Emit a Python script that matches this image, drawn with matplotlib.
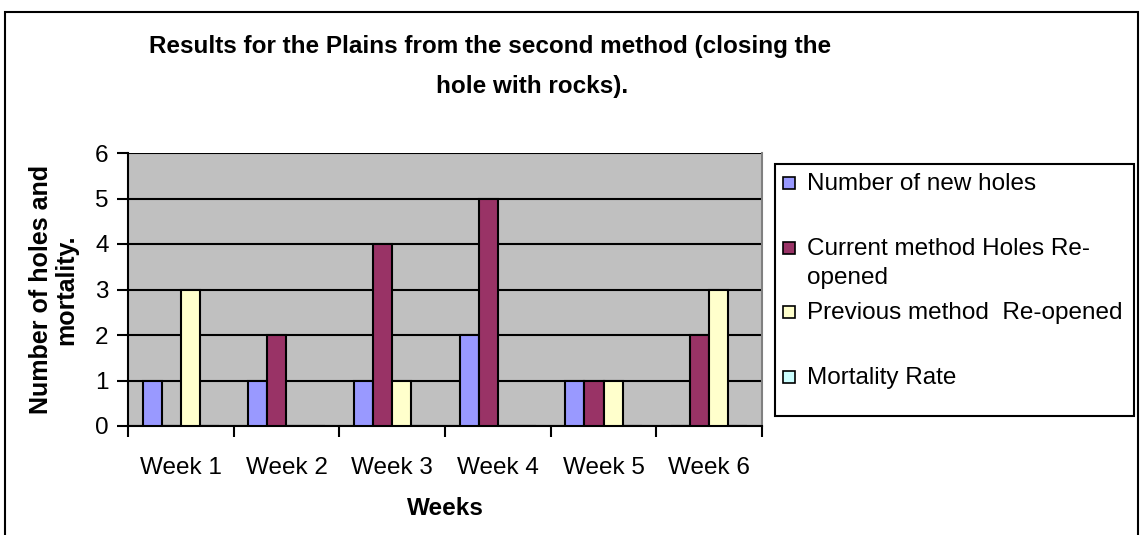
import numpy as np
import matplotlib
matplotlib.use("Agg")
from matplotlib import pyplot as plt
from matplotlib.patches import Rectangle

plt.rcParams['font.family'] = ['Liberation Sans', 'DejaVu Sans']

weeks = ["Week 1", "Week 2", "Week 3", "Week 4", "Week 5", "Week 6"]
new_holes = [1, 1, 1, 2, 1, 0]
current_reopened = [0, 2, 4, 5, 1, 2]
previous_reopened = [3, 0, 1, 0, 1, 3]
mortality = [0, 0, 0, 0, 0, 0]

series_names = ["Number of new holes", "Current method Holes Re-\nopened",
                "Previous method  Re-opened", "Mortality Rate"]
series_colors = ["#9999FF", "#993366", "#FFFFCC", "#CCFFFF"]
series = [new_holes, current_reopened, previous_reopened, mortality]

W, H = 1143, 535
fig = plt.figure(figsize=(W / 100, H / 100), dpi=100)

# outer chart border
fig.patches.append(Rectangle((5 / W, -0.02), 1133 / W, (523 / H) + 0.02,
                             transform=fig.transFigure, fill=False,
                             edgecolor="black", linewidth=1.5))

ax = fig.add_axes([128 / W, 109 / H, 634 / W, 273 / H])
ax.set_facecolor("#C0C0C0")

x = np.arange(len(weeks))
bw = 0.18
for i, (vals, col) in enumerate(zip(series, series_colors)):
    ax.bar(x + (i - 1.5) * bw, vals, bw, color=col, edgecolor="black",
           linewidth=1.5, zorder=3)

ax.set_xlim(-0.5, len(weeks) - 0.5)
ax.set_ylim(0, 6)
ax.set_yticks(range(7))
ax.yaxis.grid(True, color="black", linewidth=1.5, zorder=0)
ax.set_axisbelow(True)

ax.set_xticks(np.arange(-0.5, len(weeks), 1))
ax.set_xticklabels([])
ax.set_xticks(x, minor=True)
ax.set_xticklabels(weeks, minor=True, fontsize=17.5)
ax.tick_params(axis="x", which="minor", length=0, pad=22)
ax.tick_params(axis="x", which="major", length=8, width=1.5, direction="out")
ax.tick_params(axis="y", length=8, width=1.5, direction="out", labelsize=17.5, pad=6)

ax.spines["top"].set_visible(False)
ax.spines["right"].set_color("#808080")
ax.spines["right"].set_linewidth(1.5)
ax.spines["left"].set_linewidth(1.5)
ax.spines["bottom"].set_linewidth(1.5)

ax.set_xlabel("Weeks", fontsize=17.5, fontweight="bold", labelpad=13)
ax.set_ylabel("Number of holes and\nmortality.", fontsize=18, fontweight="bold",
              labelpad=12, linespacing=1.05)

fig.text(490 / W, 1 - 46 / H, "Results for the Plains from the second method (closing the",
         ha="center", va="center", fontsize=17.5, fontweight="bold")
fig.text(532 / W, 1 - 87 / H, "hole with rocks).",
         ha="center", va="center", fontsize=17.5, fontweight="bold")

# legend box
fig.patches.append(Rectangle((775 / W, 1 - 416 / H), 359 / W, 252 / H,
                             transform=fig.transFigure, facecolor="white",
                             edgecolor="black", linewidth=1.5))
for i, (name, col) in enumerate(zip(series_names, series_colors)):
    yc = 183 + i * 64.7
    fig.patches.append(Rectangle((783 / W, 1 - (yc + 6) / H), 12 / W, 12 / H,
                                 transform=fig.transFigure, facecolor=col,
                                 edgecolor="black", linewidth=1.2))
    fig.text(807 / W, 1 - (yc - 10) / H, name, ha="left", va="top",
             fontsize=17.5, linespacing=1.45)

fig.savefig("out.png", dpi=100)
